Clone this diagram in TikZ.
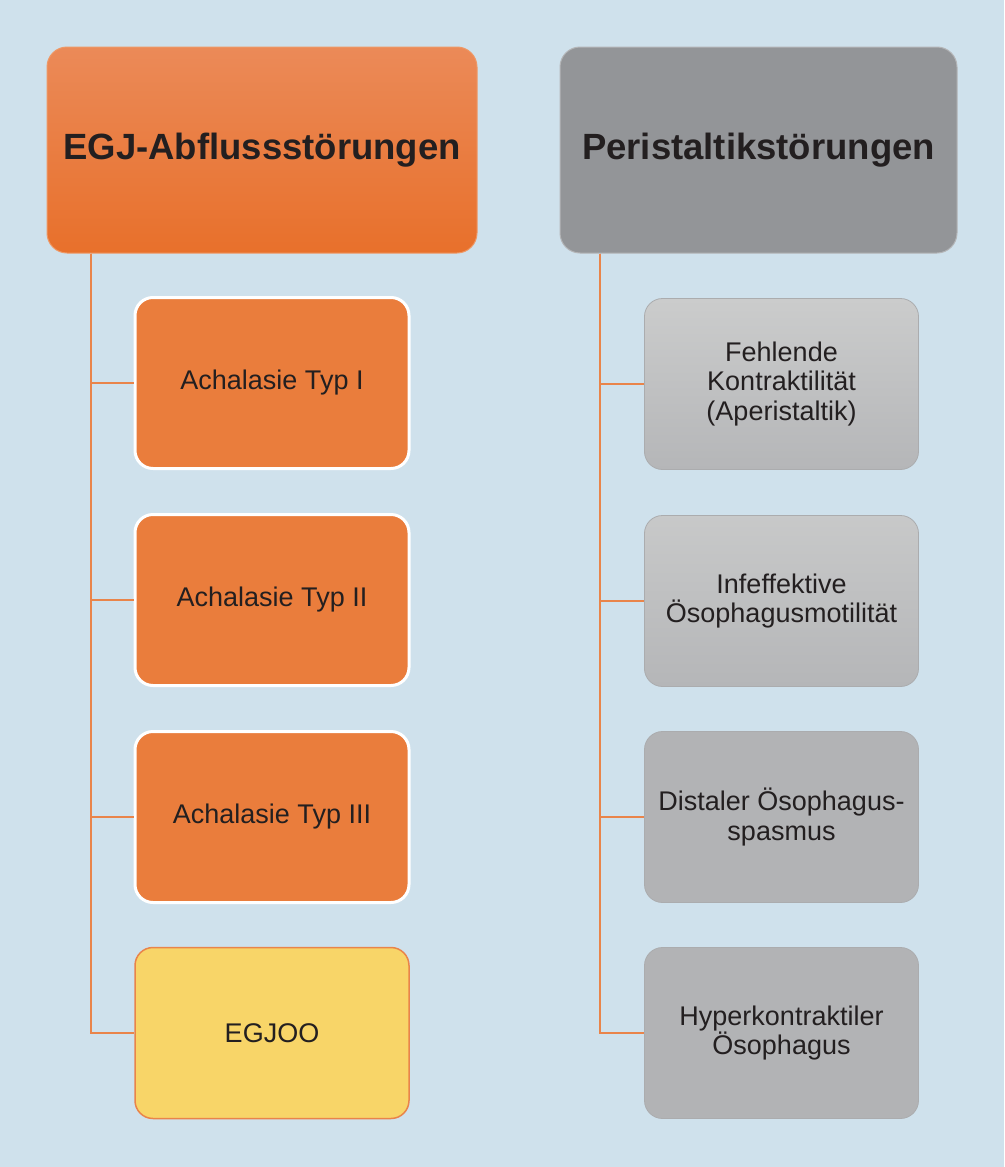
\documentclass[tikz,border=0pt]{standalone}
\usepackage{fontspec}
\setmainfont{Liberation Sans}
\definecolor{bg}{HTML}{CFE1EC}
\definecolor{txt}{HTML}{231F20}
\definecolor{orT}{HTML}{EB8A58}
\definecolor{orB}{HTML}{E8702B}
\definecolor{orBd}{HTML}{EE9866}
\definecolor{orF}{HTML}{EA7D3C}
\definecolor{conn}{HTML}{E9844A}
\definecolor{yel}{HTML}{F8D568}
\definecolor{grTop}{HTML}{939598}
\definecolor{grTopBd}{HTML}{B4B5B7}
\definecolor{gA}{HTML}{CBCCCC}
\definecolor{gB}{HTML}{B5B6B8}
\definecolor{gC}{HTML}{B2B3B5}
\definecolor{gBd}{HTML}{ABACAE}
\begin{document}
\begin{tikzpicture}[x=1pt,y=-1pt,
  every node/.style={inner sep=0pt, text=txt, align=center},
  headbox/.style={rounded corners=20pt, minimum height=206pt, line width=1pt,
    font=\fontsize{36.5}{42}\selectfont\bfseries},
  childbox/.style={rounded corners=18pt, minimum width=274pt, minimum height=171pt,
    font=\fontsize{27}{29.5}\selectfont},
  orchild/.style={childbox, fill=orF, draw=white, line width=3pt},
  yelchild/.style={childbox, fill=yel, draw=conn, line width=1.5pt},
  grchild/.style={childbox, draw=gBd, line width=0.8pt},
  conline/.style={draw=conn, line width=2pt}
]
\fill[bg] (0,0) rectangle (1004,1167);
\useasboundingbox (0,0) rectangle (1004,1167);

\node[headbox, minimum width=430pt, top color=orT, bottom color=orB, draw=orBd] (L) at (262,150) {\raisebox{-3pt}{EGJ-Abflussstörungen}};
\node[headbox, minimum width=397pt, fill=grTop, draw=grTopBd] (R) at (758.5,150) {\raisebox{-3pt}{Peristaltikstörungen}};

\node[orchild] (a1) at (272,383) {\raisebox{-2pt}{Achalasie Typ I}};
\node[orchild] (a2) at (272,600) {\raisebox{-2pt}{Achalasie Typ II}};
\node[orchild] (a3) at (272,817) {\raisebox{-2pt}{Achalasie Typ III}};
\node[yelchild] (a4) at (272,1033) {\raisebox{-2pt}{EGJOO}};

\node[grchild, top color=gA, bottom color=gB] (b1) at (781.5,384) {Fehlende\\Kontraktilität\\(Aperistaltik)};
\node[grchild, top color=gA!85!gB, bottom color=gB] (b2) at (781.5,601) {Infeffektive\\Ösophagusmotilität};
\node[grchild, fill=gC] (b3) at (781.5,817) {Distaler Ösophagus-\\spasmus};
\node[grchild, fill=gC] (b4) at (781.5,1033) {Hyperkontraktiler\\Ösophagus};

\coordinate (lx) at (91,0);
\coordinate (rx) at (600,0);
\foreach \n in {a1,a2,a3,a4}{
  \draw[conline] (L.south -| lx) |- (\n.west);
}
\foreach \n in {b1,b2,b3,b4}{
  \draw[conline] (R.south -| rx) |- (\n.west);
}
\end{tikzpicture}
\end{document}
